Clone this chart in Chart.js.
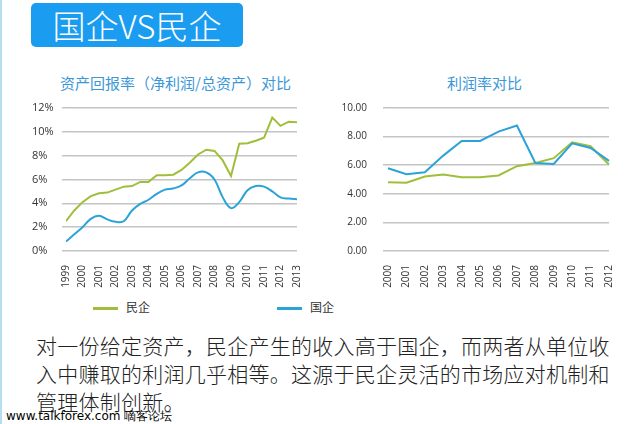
<!DOCTYPE html>
<html>
<head>
<meta charset="utf-8">
<script src="https://cdn.jsdelivr.net/npm/chart.js@4"></script>
<style>
  body { margin: 0; width: 635px; height: 424px; background: #fff; position: relative; overflow: hidden; font-family: "Noto Sans CJK SC", sans-serif; }
  .edge { position: absolute; left: 0; top: 0; width: 2px; height: 424px; background: #b5def3; }
  .banner { position: absolute; left: 31px; top: 3px; width: 212px; height: 44px; background: #1a9cf0; border-radius: 5px; color: #fff; font-size: 33px; line-height: 44px; text-align: center; font-weight: 300; }
  .ctitle { position: absolute; top: 72px; color: #3b97d6; font-size: 15px; line-height: 22px; white-space: nowrap; }
  .box { position: absolute; }
  .legend { position: absolute; top: 298px; font-size: 12px; line-height: 18px; color: #333; }
  .legend i { display: inline-block; width: 25px; height: 3px; vertical-align: middle; margin-right: 8px; }
  .para { position: absolute; left: 36px; top: 331px; font-size: 21px; line-height: 28px; color: #222; white-space: nowrap; font-weight: 300; letter-spacing: 0.25px; }
  .wm { position: absolute; left: 6px; top: 408px; font-size: 12px; color: #000; font-family: "DejaVu Sans", sans-serif; }
</style>
</head>
<body>
<div class="edge"></div>
<div class="banner">国企VS民企</div>

<div class="ctitle" style="left:60px">资产回报率（净利润/总资产）对比</div>
<div class="ctitle" style="left:447px">利润率对比</div>

<div class="box" style="left:28px;top:95px;width:275px;height:194px"><canvas id="roaChart"></canvas></div>
<div class="box" style="left:337px;top:95px;width:278px;height:194px"><canvas id="marginChart"></canvas></div>

<div class="legend" style="left:93px"><i style="background:#9fbf3b"></i>民企</div>
<div class="legend" style="left:277px"><i style="background:#2ba3d8"></i>国企</div>

<div class="para">对一份给定资产，民企产生的收入高于国企，而两者从单位收<br>入中赚取的利润几乎相等。这源于民企灵活的市场应对机制和<br>管理体制创新。</div>
<div class="wm">www.talkforex.com 嘀客论坛</div>

<script>
// 资产回报率 (half-year points, 1999 - 2013)
const roaX = [1999, 1999.5, 2000, 2000.5, 2001, 2001.5, 2002, 2002.5, 2003, 2003.5,
  2004, 2004.5, 2005, 2005.5, 2006, 2006.5, 2007, 2007.5, 2008, 2008.5,
  2009, 2009.5, 2010, 2010.5, 2011, 2011.5, 2012, 2012.5, 2013];
const roaPrivate = [2.5, 3.4, 4.1, 4.6, 4.85, 4.9, 5.15, 5.4, 5.45, 5.8,
  5.8, 6.35, 6.35, 6.4, 6.8, 7.4, 8.1, 8.5, 8.4, 7.6,
  6.3, 9.0, 9.05, 9.25, 9.5, 11.2, 10.5, 10.85, 10.8];
const roaState = [0.8, 1.4, 2.0, 2.7, 2.95, 2.65, 2.45, 2.5, 3.4, 3.95,
  4.3, 4.8, 5.15, 5.25, 5.5, 6.1, 6.6, 6.6, 6.0, 4.5,
  3.6, 4.1, 5.1, 5.45, 5.4, 5.0, 4.5, 4.4, 4.35];

// 利润率
const marginYears = ["2000", "2001", "2002", "2003", "2004", "2005", "2006",
  "2007", "2008", "2009", "2010", "2011", "2012"];
const marginState = [5.79, 5.37, 5.51, 6.67, 7.7, 7.7, 8.35, 8.77, 6.16, 6.09, 7.53, 7.2, 6.3];
const marginPrivate = [4.81, 4.77, 5.21, 5.35, 5.16, 5.16, 5.28, 5.93, 6.16, 6.49, 7.6, 7.33, 6.05];

const green = "#9fbf3b";
const blue = "#2ba3d8";

Chart.defaults.font.family = "'Open Sans', sans-serif";
Chart.defaults.color = "#333";
Chart.defaults.animation = false;
Chart.defaults.maintainAspectRatio = false;

const pts = (xs, ys) => xs.map((x, i) => ({ x: x, y: ys[i] }));

// fixed axis boxes so the plot area lands where the picture has it
function fixX(h) {
  return scale => { scale.height = h; scale.paddingLeft = 0; scale.paddingRight = 0; };
}
function fixY(w) {
  return scale => { scale.width = w; scale.paddingTop = 0; scale.paddingBottom = 0; };
}

new Chart(document.getElementById("roaChart"), {
  type: "line",
  data: {
    datasets: [
      { label: "民企", data: pts(roaX, roaPrivate), borderColor: green, borderWidth: 2, pointRadius: 0, tension: 0 },
      { label: "国企", data: pts(roaX, roaState), borderColor: blue, borderWidth: 2, pointRadius: 0, tension: 0.4 }
    ]
  },
  options: {
    layout: { padding: { left: 4, right: 6, top: 13, bottom: 0 } },
    plugins: { legend: { display: false }, tooltip: { enabled: false } },
    scales: {
      x: {
        type: "linear", min: 1999, max: 2013,
        grid: { display: false }, border: { display: false },
        afterFit: fixX(38),
        ticks: { stepSize: 1, font: { size: 10 }, maxRotation: 90, minRotation: 90, padding: 6, callback: v => String(v) }
      },
      y: {
        min: 0, max: 12,
        border: { display: false },
        afterFit: fixY(34),
        grid: { color: "#c4c4c4", lineWidth: 1.5, tickLength: 4 },
        ticks: { stepSize: 2, font: { size: 11 }, crossAlign: "far", padding: 4, callback: v => v + "%" }
      }
    }
  }
});

new Chart(document.getElementById("marginChart"), {
  type: "line",
  data: {
    labels: marginYears,
    datasets: [
      { label: "国企", data: marginState, borderColor: blue, borderWidth: 2, pointRadius: 0, tension: 0 },
      { label: "民企", data: marginPrivate, borderColor: green, borderWidth: 2, pointRadius: 0, tension: 0 }
    ]
  },
  options: {
    layout: { padding: { left: 4, right: 6, top: 13, bottom: 0 } },
    plugins: { legend: { display: false }, tooltip: { enabled: false } },
    scales: {
      x: {
        grid: { display: false }, border: { display: false },
        afterFit: fixX(38),
        ticks: { font: { size: 10 }, maxRotation: 90, minRotation: 90, padding: 6, autoSkip: false }
      },
      y: {
        min: 0, max: 10,
        border: { display: false },
        afterFit: fixY(47),
        grid: { color: "#c4c4c4", lineWidth: 1.5, tickLength: 5 },
        ticks: { stepSize: 2, font: { size: 10 }, padding: 16, callback: v => v.toFixed(2) }
      }
    }
  }
});
</script>
</body>
</html>
